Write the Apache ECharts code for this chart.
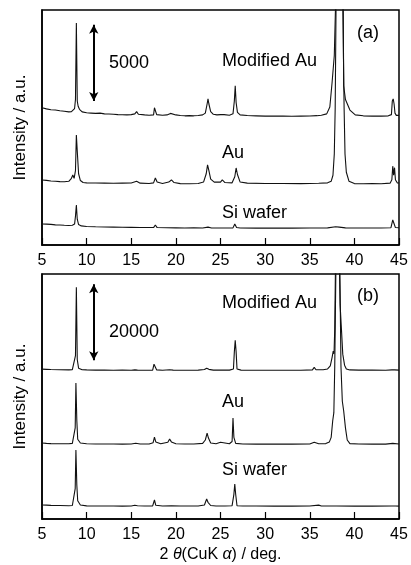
<!DOCTYPE html>
<html>
<head>
<meta charset="utf-8">
<script src="https://cdn.jsdelivr.net/npm/echarts@6/dist/echarts.min.js"></script>
<style>
html,body{margin:0;padding:0;background:#fff;}
#chart{width:411px;height:565px;}
</style>
</head>
<body>
<div id="chart"></div>
<script>
// x tick labels (2θ / deg)
var xTicks = [5, 10, 15, 20, 25, 30, 35, 40, 45];

// Panel (a): [2θ, counts] (traces stacked with offsets)
var aModifiedAu = [[5,9050],[5.5,8980],[6,8920],[6.5,8900],[7,8850],[7.5,8820],[8,8780],[8.3,8800],[8.5,8850],[8.65,9000],[8.75,9600],[8.85,14650],[8.95,9500],[9.05,9150],[9.2,8950],[9.5,8780],[10,8720],[10.5,8700],[11,8680],[11.5,8700],[12,8650],[12.5,8640],[13,8620],[13.5,8600],[14,8590],[14.5,8580],[15,8600],[15.4,8650],[15.6,8800],[15.8,8620],[16.5,8580],[17,8560],[17.5,8580],[17.6,9050],[17.75,9050],[17.85,8600],[18.5,8560],[19,8580],[19.4,8680],[19.6,8700],[20,8580],[20.5,8540],[21,8520],[21.5,8530],[22,8520],[22.5,8540],[23,8580],[23.3,8700],[23.5,9300],[23.6,9640],[23.7,9300],[23.9,8800],[24.2,8620],[24.6,8580],[25,8600],[25.2,8700],[25.4,8600],[26,8560],[26.4,8650],[26.55,9500],[26.65,10500],[26.75,9400],[26.9,8750],[27.2,8580],[28,8540],[29,8520],[30,8500],[31,8510],[32,8500],[33,8490],[34,8500],[35,8510],[35.8,8530],[36.3,8560],[36.9,8650],[37.25,9100],[37.5,10700],[37.75,12500],[37.9,16000],[38.1,28000],[38.35,30000],[38.6,28000],[38.75,16000],[38.8,10500],[39,9600],[39.5,8900],[40.1,8580],[41,8520],[42,8500],[43,8500],[43.8,8520],[44.15,8600],[44.25,9500],[44.35,9640],[44.45,9300],[44.55,8700],[44.7,8550],[45,8550]];
var aAu = [[5,4290],[5.5,4260],[6,4220],[6.5,4200],[7,4180],[7.5,4170],[8,4200],[8.3,4400],[8.45,4620],[8.6,4400],[8.75,4900],[8.85,7260],[8.95,6200],[9.1,4700],[9.3,4250],[9.6,4120],[10,4100],[11,4090],[12,4080],[13,4070],[14,4080],[15,4090],[15.6,4200],[16,4080],[17,4060],[17.5,4100],[17.7,4420],[17.9,4150],[18.5,4060],[19.2,4150],[19.5,4290],[19.8,4120],[20.5,4050],[21.5,4040],[22.5,4060],[23.1,4150],[23.4,4700],[23.55,5280],[23.7,4900],[23.9,4350],[24.3,4150],[25,4150],[25.2,4290],[25.5,4120],[26.3,4100],[26.6,4500],[26.75,5080],[26.9,4650],[27.2,4150],[28,4080],[30,4060],[32,4060],[34,4050],[36,4070],[37,4100],[37.4,4200],[37.6,4600],[37.75,6000],[37.85,9000],[37.95,16000],[38.3,30000],[38.7,16000],[38.85,9000],[38.95,6000],[39.1,4800],[39.4,4200],[40,4050],[41,4040],[42,4050],[43,4040],[44,4080],[44.2,4300],[44.3,5200],[44.4,4600],[44.5,5100],[44.6,4300],[44.8,4100],[45,4090]];
var aSiWafer = [[5,1390],[5.5,1380],[6,1360],[6.5,1330],[7,1320],[7.5,1300],[8,1290],[8.4,1300],[8.65,1380],[8.75,1900],[8.85,2640],[8.95,1700],[9.1,1350],[9.4,1260],[10,1220],[11,1200],[12,1190],[13,1180],[14,1170],[15,1160],[16,1150],[17,1150],[17.5,1150],[17.7,1320],[17.9,1150],[19,1140],[20,1130],[21,1120],[22,1130],[23,1120],[23.6,1180],[24,1120],[25,1120],[26.4,1130],[26.6,1390],[26.8,1150],[27.2,1120],[29,1110],[31,1120],[33,1110],[35,1120],[37,1130],[37.9,1200],[38.05,1320],[38.3,1180],[39,1130],[41,1120],[43,1120],[44.1,1140],[44.3,1650],[44.45,1400],[44.6,1150],[45,1140]];

// Panel (b)
var bModifiedAu = [[5,39450],[5.5,39400],[6,39350],[7,39300],[8,39250],[8.4,39300],[8.6,39600],[8.75,43000],[8.85,61000],[8.95,42000],[9.1,39700],[9.5,39300],[10,39250],[11,39200],[12,39200],[13,39150],[14,39200],[15,39150],[15.4,39250],[15.55,39700],[15.7,39200],[16.5,39150],[17.4,39200],[17.55,40760],[17.75,40760],[17.85,39250],[18.5,39150],[19.3,39300],[19.5,39500],[19.7,39200],[20.5,39150],[21.5,39150],[22.5,39200],[23.2,39350],[23.45,39710],[23.7,39400],[24.2,39200],[25,39200],[26,39200],[26.45,39500],[26.55,44000],[26.65,47080],[26.75,44000],[26.85,39500],[27.3,39200],[28,39150],[30,39150],[32,39150],[34,39150],[35.3,39250],[35.5,39900],[35.7,39300],[36.5,39300],[37,39500],[37.3,40300],[37.5,42500],[37.63,44200],[37.72,43500],[37.8,50000],[37.9,70000],[38.05,90000],[38.3,70000],[38.4,56500],[38.55,50000],[38.7,43400],[38.9,40500],[39.1,39500],[39.5,39250],[40.5,39200],[42,39200],[43.5,39150],[44.2,39250],[44.35,39700],[44.5,39250],[45,39200]];
var bAu = [[5,19990],[5.5,19900],[6,19850],[7,19800],[8,19800],[8.4,19900],[8.6,20300],[8.72,24000],[8.8,35770],[8.9,26000],[9,21000],[9.3,20000],[10,19800],[11,19750],[12,19750],[13,19750],[14,19700],[15,19750],[15.5,19950],[16,19750],[17,19750],[17.45,20100],[17.6,21570],[17.75,20300],[18.3,19800],[19.1,20200],[19.3,21040],[19.5,20300],[20,19800],[21,19750],[22,19750],[23,19900],[23.3,20800],[23.5,22620],[23.65,21300],[23.9,20000],[24.5,19800],[25,20200],[25.2,19850],[26,19800],[26.3,20400],[26.4,26560],[26.5,21500],[26.7,19900],[27.5,19750],[29,19700],[31,19700],[33,19700],[35,19750],[35.5,20200],[36,19800],[36.8,19850],[37.2,20300],[37.4,21500],[37.57,25800],[37.7,28000],[37.8,40000],[37.95,70000],[38.15,90000],[38.35,70000],[38.5,40000],[38.65,31000],[38.8,28500],[39,24000],[39.2,20800],[39.5,19850],[40.5,19750],[42,19700],[43.5,19700],[44.3,19900],[44.4,20300],[44.5,19800],[45,19750]];
var bSiWafer = [[5,3680],[5.5,3650],[6,3600],[7,3550],[8,3500],[8.4,3550],[8.6,4000],[8.72,8000],[8.8,18150],[8.9,9000],[9,4800],[9.3,3700],[10,3450],[11,3420],[12,3420],[13,3420],[14,3400],[15,3420],[15.4,3600],[15.55,3950],[15.7,3500],[16.5,3420],[17.4,3450],[17.6,5000],[17.75,3600],[18.5,3420],[19.5,3450],[20.5,3420],[21.5,3420],[22.5,3430],[23.2,3700],[23.45,5260],[23.6,4400],[23.9,3550],[24.5,3430],[25.5,3420],[26.3,3500],[26.5,6500],[26.6,9200],[26.7,6500],[26.85,3500],[27.5,3420],[29,3420],[31,3400],[33,3400],[35,3410],[36,3650],[36.3,3420],[38,3420],[40,3400],[42,3400],[44.2,3420],[44.4,3680],[44.6,3420],[45,3400]];

// scale bars: [2θ, from, to]
var aScaleBar = [10.8, 9500, 14520];
var bScaleBar = [10.8, 41800, 61800];
var aScaleLabel = '5000';
var bScaleLabel = '20000';
var yRangeA = [0, 15500];
var yRangeB = [0, 64500];
var traceNames = ['Modified Au', 'Au', 'Si wafer'];

var FONT = '"Liberation Sans", Arial, sans-serif';
var chart = echarts.init(document.getElementById('chart'), null, {renderer: 'canvas'});

function xAxisDef(gridIndex, withName) {
  var ax = {
    type: 'value', gridIndex: gridIndex, min: xTicks[0], max: xTicks[xTicks.length - 1], interval: xTicks[1] - xTicks[0],
    axisLine: {show: true, onZero: false, lineStyle: {color: '#000', width: 1.5}},
    axisTick: {show: true, inside: true, length: 7, lineStyle: {color: '#000', width: 1.2}},
    axisLabel: {show: true, color: '#000', fontSize: 16, fontFamily: FONT, margin: 8},
    splitLine: {show: false}
  };
  if (withName) {
    ax.name = '2 {i|θ}(CuK {i|α}) / deg.';
    ax.nameLocation = 'middle';
    ax.nameGap = 28;
    ax.nameTextStyle = {color: '#000', fontSize: 16, fontFamily: FONT,
      rich: {i: {fontStyle: 'italic', fontSize: 16, fontFamily: FONT, color: '#000'}}};
  }
  return ax;
}
function yAxisDef(gridIndex, range) {
  return {
    type: 'value', gridIndex: gridIndex, min: range[0], max: range[1],
    name: 'Intensity / a.u.', nameLocation: 'middle', nameGap: 13, nameRotate: 90,
    nameTextStyle: {color: '#000', fontSize: 17, fontFamily: FONT},
    axisLine: {show: true, lineStyle: {color: '#000', width: 1.5}},
    axisTick: {show: false}, axisLabel: {show: false}, splitLine: {show: false}
  };
}
function trace(data, xi, yi, extra) {
  var s = {type: 'line', xAxisIndex: xi, yAxisIndex: yi, data: data, showSymbol: false, symbol: 'none',
    clip: true, lineStyle: {color: '#111', width: 1.1}, silent: true, z: 3};
  if (extra) { for (var k in extra) s[k] = extra[k]; }
  return s;
}
function scaleBar(sb) {
  return {silent: true, symbol: ['arrow', 'arrow'], symbolSize: [7, 9],
    lineStyle: {color: '#000', width: 2, type: 'solid'}, label: {show: false},
    data: [[{coord: [sb[0], sb[1]]}, {coord: [sb[0], sb[2]]}]]};
}
function txt(x, y, s) {
  return {type: 'text', left: x, top: y, style: {text: s, fill: '#000', font: '18px ' + FONT, textVerticalAlign: 'middle'}};
}

chart.setOption({
  animation: false,
  backgroundColor: '#fff',
  grid: [
    {left: 42, right: 12, top: 10, height: 235, show: true, borderColor: '#000', borderWidth: 1.5, backgroundColor: 'transparent'},
    {left: 42, right: 12, top: 274, height: 245, show: true, borderColor: '#000', borderWidth: 1.5, backgroundColor: 'transparent'}
  ],
  xAxis: [xAxisDef(0, false), xAxisDef(1, true)],
  yAxis: [yAxisDef(0, yRangeA), yAxisDef(1, yRangeB)],
  series: [
    trace(aModifiedAu, 0, 0, {markLine: scaleBar(aScaleBar)}),
    trace(aAu, 0, 0),
    trace(aSiWafer, 0, 0),
    trace(bModifiedAu, 1, 1, {markLine: scaleBar(bScaleBar)}),
    trace(bAu, 1, 1),
    trace(bSiWafer, 1, 1)
  ],
  graphic: [
    {type: 'text', left: 109, top: 54, style: {text: aScaleLabel, fill: '#000', font: '18px ' + FONT}},
    {type: 'text', left: 222, top: 52, style: {text: traceNames[0], fill: '#000', font: '18px ' + FONT}},
    {type: 'text', left: 357, top: 24, style: {text: '(a)', fill: '#000', font: '18px ' + FONT}},
    {type: 'text', left: 222, top: 144, style: {text: traceNames[1], fill: '#000', font: '18px ' + FONT}},
    {type: 'text', left: 222, top: 204, style: {text: traceNames[2], fill: '#000', font: '18px ' + FONT}},
    {type: 'text', left: 109, top: 323, style: {text: bScaleLabel, fill: '#000', font: '18px ' + FONT}},
    {type: 'text', left: 222, top: 294, style: {text: traceNames[0], fill: '#000', font: '18px ' + FONT}},
    {type: 'text', left: 357, top: 287, style: {text: '(b)', fill: '#000', font: '18px ' + FONT}},
    {type: 'text', left: 222, top: 393, style: {text: traceNames[1], fill: '#000', font: '18px ' + FONT}},
    {type: 'text', left: 222, top: 461, style: {text: traceNames[2], fill: '#000', font: '18px ' + FONT}}
  ]
});
</script>
</body>
</html>
